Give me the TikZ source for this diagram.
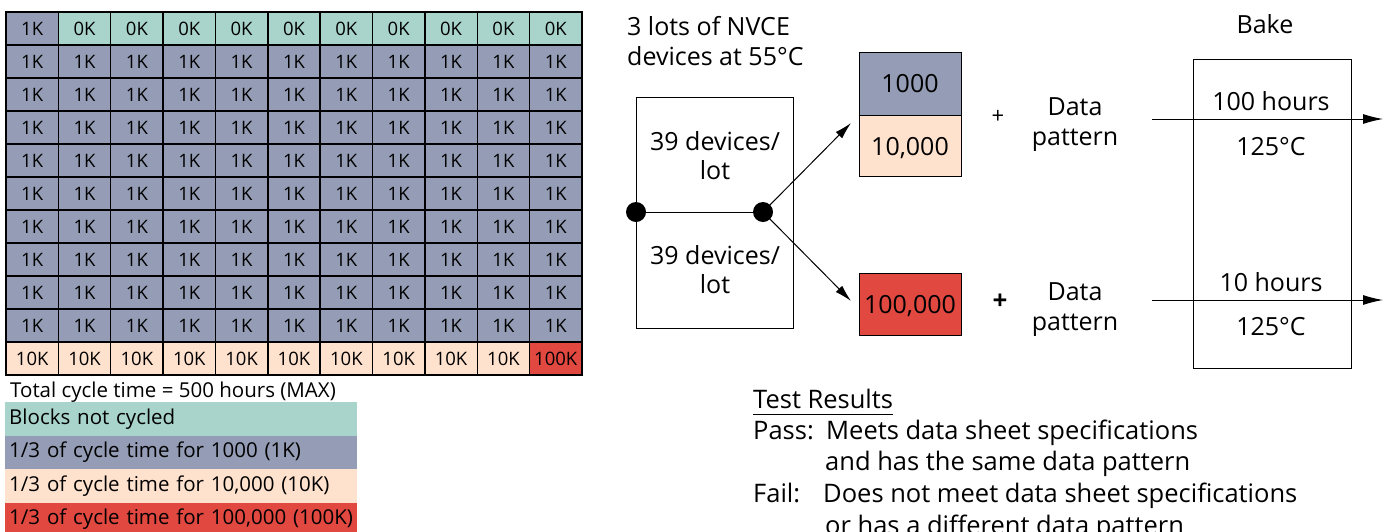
\documentclass[tikz,border=0pt]{standalone}
\usepackage{fontspec}
\setmainfont{Open Sans}
\usetikzlibrary{arrows.meta}
\definecolor{cteal}{RGB}{168,212,203}
\definecolor{cblue}{RGB}{148,157,181}
\definecolor{cpeach}{RGB}{255,226,206}
\definecolor{cred}{RGB}{224,72,64}
\tikzset{
  cell/.style={draw=black, line width=1.4pt, minimum width=52.36pt, minimum height=33pt, inner sep=0pt, font=\fontsize{18.5}{21}\selectfont},
  legend/.style={anchor=north west, minimum width=352pt, minimum height=33.5pt, text width=344pt, inner sep=4pt, align=left, font=\fontsize{20.5}{23}\selectfont},
  txt/.style={inner sep=0pt, font=\fontsize{25}{29}\selectfont},
  res/.style={inner sep=0pt, anchor=base west, font=\fontsize{25.5}{29}\selectfont},
  box/.style={draw=black, line width=1pt, inner sep=0pt},
  dot/.style={circle, fill=black, minimum size=20pt, inner sep=0pt},
  arr/.style={line width=1pt, -{Latex[length=17pt,width=9pt]}},
  bakearr/.style={line width=1pt, -{Latex[length=20pt,width=10pt]}},
}
\begin{document}
\begin{tikzpicture}[x=1pt,y=-1pt]
\useasboundingbox (0,0) rectangle (1389,531);
\clip (0,0) rectangle (1389,531);
% grid
\foreach \r in {0,...,10}{
  \foreach \c in {0,...,10}{
    \pgfmathsetmacro{\cx}{6+52.36*\c+26.18}
    \pgfmathsetmacro{\cy}{12+33*\r+16.5}
    \ifnum\r=0
      \ifnum\c=0
        \node[cell, fill=cblue] (cell-\r-\c) at (\cx,\cy) {1K};
      \else
        \node[cell, fill=cteal] (cell-\r-\c) at (\cx,\cy) {0K};
      \fi
    \else
      \ifnum\r=10
        \ifnum\c=10
          \node[cell, fill=cred] (cell-\r-\c) at (\cx,\cy) {100K};
        \else
          \node[cell, fill=cpeach] (cell-\r-\c) at (\cx,\cy) {10K};
        \fi
      \else
        \node[cell, fill=cblue] (cell-\r-\c) at (\cx,\cy) {1K};
      \fi
    \fi
  }
}
% legend
\node[anchor=base west, inner sep=0pt, font=\fontsize{20.5}{23}\selectfont] (total) at (10,397) {Total cycle time = 500 hours (MAX)};
\node[legend, fill=cteal] (lg0) at (5,402) {Blocks not cycled};
\node[legend, fill=cblue] (lg1) at (5,435.5) {1/3 of cycle time for 1000 (1K)};
\node[legend, fill=cpeach] (lg2) at (5,469) {1/3 of cycle time for 10,000 (10K)};
\node[legend, fill=cred] (lg3) at (5,502.5) {1/3 of cycle time for 100,000 (100K)};
% lots
\node[txt, anchor=base west] (lots1) at (627,35) {3 lots of NVCE};
\node[txt, anchor=base west] (lots2) at (627,65) {devices at 55°C};
\node[box, minimum width=157pt, minimum height=231pt] (lotbox) at (714.5,212.5) {};
\node[txt, align=center, anchor=base] (lotA) at (715,179) {39 devices/\\lot};
\node[txt, align=center, anchor=base] (lotB) at (715,293) {39 devices/\\lot};
\node[dot] (d1) at (636,212) {};
\node[dot] (d2) at (763,212) {};
\draw[line width=1pt] (d1) -- (d2);
\coordinate (t1) at (851,123);
\coordinate (t2) at (851,301);
\draw[arr] (d2.center) -- (t1);
\draw[arr] (d2.center) -- (t2);
% count boxes
\node[box, fill=cblue, minimum width=102pt, minimum height=63pt] (b1) at (910,83.5) {};
\node[box, fill=cpeach, minimum width=102pt, minimum height=61pt] (b2) at (910,145.5) {};
\node[box, fill=cred, minimum width=102pt, minimum height=62pt] (b3) at (910,304) {};
\node[txt, anchor=base] (b1t) at (910,92) {1000};
\node[txt, anchor=base] (b2t) at (910,155) {10,000};
\node[txt, anchor=base] (b3t) at (910,313) {100,000};
% plus and data pattern
\node[txt, font=\fontsize{22}{24}\selectfont] (p1) at (998,117) {+};
\node[txt, font=\bfseries\fontsize{26}{28}\selectfont] (p2) at (1000,302) {+};
\node[txt, align=center, anchor=base, font=\fontsize{25}{30}\selectfont] (dp1) at (1075,145) {Data\\pattern};
\node[txt, align=center, anchor=base, font=\fontsize{25}{30}\selectfont] (dp2) at (1075,330) {Data\\pattern};
% bake
\node[txt, anchor=base] (bake) at (1265,33) {Bake};
\node[box, minimum width=158pt, minimum height=309pt] (bakebox) at (1272,213.5) {};
\coordinate (i1) at (1152,119);
\coordinate (o1) at (1383,119);
\coordinate (i2) at (1152,300);
\coordinate (o2) at (1383,300);
\draw[bakearr] (i1) -- (o1);
\draw[bakearr] (i2) -- (o2);
\node[txt, anchor=base] (h1) at (1271,110) {100 hours};
\node[txt, anchor=base] (c1) at (1271,155) {125°C};
\node[txt, anchor=base] (h2) at (1271,291) {10 hours};
\node[txt, anchor=base] (c2) at (1271,335) {125°C};
% test results
\node[res] (tr) at (753,408) {Test Results};
\draw[line width=1.5pt] (tr.south west) ++(0,6) coordinate (u1) -- (u1 -| tr.east);
\node[res] (pass) at (753,439) {Pass:};
\node[res] (pass1) at (826,439) {Meets data sheet specifications};
\node[res] (pass2) at (825,470) {and has the same data pattern};
\node[res] (fail) at (753,502) {Fail:};
\node[res] (fail1) at (823,502) {Does not meet data sheet specifications};
\node[res] (fail2) at (825,534) {or has a different data pattern};
\end{tikzpicture}
\end{document}
